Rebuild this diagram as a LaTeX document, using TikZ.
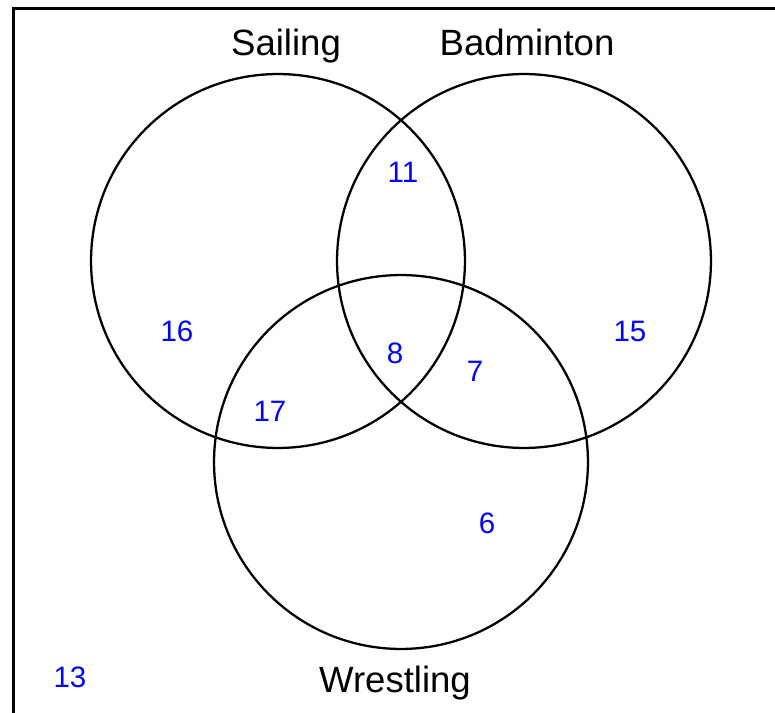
\documentclass[tikz,border=0pt]{standalone}
\usepackage{fontspec}
\setmainfont{Liberation Sans}
\usetikzlibrary{positioning}
\definecolor{CountBlue}{RGB}{0,0,255}

\begin{document}
\begin{tikzpicture}[x=0.02cm, y=-0.02cm,
  every node/.style={inner sep=0pt, outer sep=0pt},
  set/.style={draw, circle, line width=1.3pt, minimum size=7.48cm},
  setname/.style={font=\fontsize{20.8}{21}\selectfont, anchor=base},
  count/.style={font=\fontsize{16.8}{17}\selectfont, text=CountBlue}]
  \useasboundingbox (0,0) rectangle (775,713);
  \clip (0,0) rectangle (775,713);
  \draw[line width=1.9pt] (13.5,8.5) rectangle (800,740);
  % the three sets
  \node[set] (sail) at (278,261) {};
  \node[set] (badm) at (524,261) {};
  \node[set] (wres) at (401,462) {};
  \node[setname] (sailname) at (286,56) {Sailing};
  \node[setname] (badmname) at (527,56) {Badminton};
  \node[setname] (wresname) at (395,692) {Wrestling};
  % region counts
  \node[count] (sb) at (403,172) {11};
  \node[count] (s) at (177,331) {16};
  \node[count] (b) at (630,331) {15};
  \node[count] (sbw) at (395,353) {8};
  \node[count] (bw) at (475,371) {7};
  \node[count] (sw) at (270,411) {17};
  \node[count] (w) at (487,523) {6};
  \node[count] (none) at (70,677) {13};
\end{tikzpicture}
\end{document}
